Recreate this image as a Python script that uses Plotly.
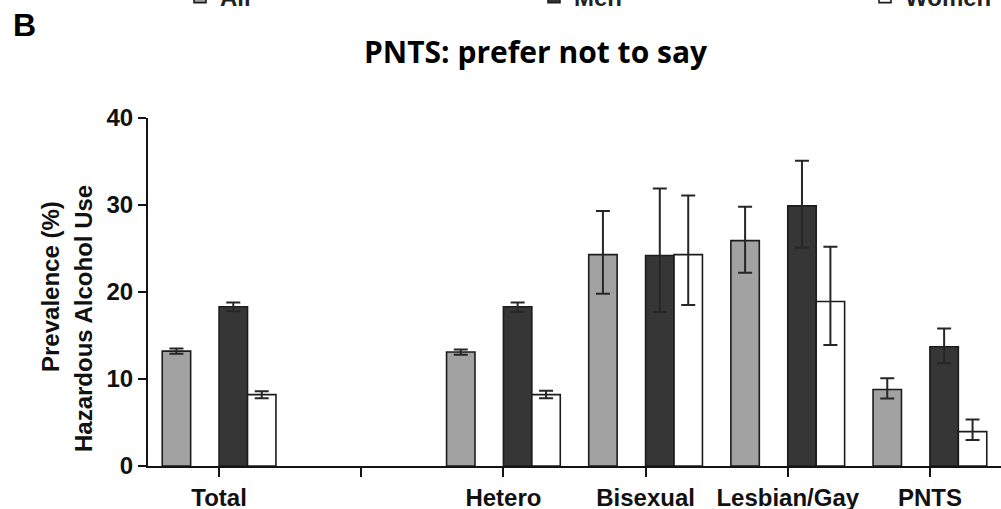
import plotly.graph_objects as go

# ---- data ----
categories = ["Total", "", "Hetero", "Bisexual", "Lesbian/Gay", "PNTS"]

all_val   = [13.2, None, 13.1, 24.3, 25.9, 8.8]
all_hi    = [13.5, None, 13.4, 29.3, 29.8, 10.1]
all_lo    = [12.9, None, 12.8, 19.8, 22.2, 7.75]

men_val   = [18.3, None, 18.3, 24.2, 29.9, 13.7]
men_hi    = [18.8, None, 18.8, 31.9, 35.1, 15.8]
men_lo    = [17.8, None, 17.7, 17.7, 25.1, 11.8]

women_val = [8.2, None, 8.2, 24.3, 18.9, 3.95]
women_hi  = [8.6, None, 8.65, 31.1, 25.2, 5.35]
women_lo  = [7.8, None, 7.8, 18.5, 13.9, 3.0]

series_names = ["All", "Men", "Women"]
y_ticks = [0, 10, 20, 30, 40]

x_pos = list(range(len(categories)))


def plus(v, hi):
    return [None if a is None else h - a for a, h in zip(v, hi)]


def minus(v, lo):
    return [None if a is None else a - l for a, l in zip(v, lo)]


AX = "#141414"
EB = dict(type="data", symmetric=False, color="#262626", thickness=2, width=7)
LINE = dict(color="#1c1c1c", width=1.6)

fig = go.Figure()
fig.add_trace(go.Bar(
    name=series_names[0], x=x_pos, y=all_val,
    marker=dict(color="#a2a2a2", line=LINE),
    error_y=dict(array=plus(all_val, all_hi), arrayminus=minus(all_val, all_lo), **EB),
    legend="legend",
))
# empty slot (the original layout leaves a blank position in each group)
fig.add_trace(go.Bar(
    name="", x=x_pos, y=[None] * len(x_pos), showlegend=False,
    marker=dict(color="rgba(0,0,0,0)", line=dict(width=0)), hoverinfo="skip",
))
fig.add_trace(go.Bar(
    name=series_names[1], x=x_pos, y=men_val,
    marker=dict(color="#363636", line=LINE),
    error_y=dict(array=plus(men_val, men_hi), arrayminus=minus(men_val, men_lo), **EB),
    legend="legend2",
))
fig.add_trace(go.Bar(
    name=series_names[2], x=x_pos, y=women_val,
    marker=dict(color="#ffffff", line=LINE),
    error_y=dict(array=plus(women_val, women_hi), arrayminus=minus(women_val, women_lo), **EB),
    legend="legend3",
))

L, R, T, B = 148, 0, 118, 43
W, H = 1001, 509
pw, ph = W - L - R, H - T - B


def px_x(px):
    return (px - L) / pw


def px_y(py):
    return 1 - (py - T) / ph


FAM = "Liberation Sans, Arial, sans-serif"
tick_font = dict(family=FAM, size=24, color="#111", weight="bold")
leg_font = dict(family=FAM, size=24, color="#222", weight="bold")

# the legend row sits mostly above the top edge of the (cropped) figure
legend_common = dict(orientation="h", xref="container", yref="paper",
                     xanchor="left", yanchor="middle", y=px_y(-3), font=leg_font,
                     bgcolor="rgba(0,0,0,0)")

fig.update_layout(
    width=W, height=H,
    margin=dict(l=L, r=R, t=T, b=B, autoexpand=False),
    paper_bgcolor="white", plot_bgcolor="white",
    barmode="group", bargap=0.2, bargroupgap=0.0,
    title=dict(text="PNTS: prefer not to say", xref="container", x=0.535, xanchor="center",
               yref="container", y=1 - 52 / H, yanchor="middle",
               font=dict(family="Open Sans, sans-serif", size=30, color="#000", weight="bold")),
    legend=dict(x=180 / W, **legend_common),
    legend2=dict(x=534 / W, **legend_common),
    legend3=dict(x=865 / W, **legend_common),
    xaxis=dict(range=[-0.5, len(categories) - 0.5], tickmode="array", tickvals=x_pos,
               ticktext=categories, ticks="outside", ticklen=9, tickwidth=2, tickcolor=AX,
               showline=True, linewidth=2, linecolor=AX, showgrid=False, zeroline=False,
               tickfont=dict(tick_font, size=24)),
    yaxis=dict(range=[0, 40], tickmode="array", tickvals=y_ticks, ticks="outside",
               ticklen=8, tickwidth=2, tickcolor=AX, showline=True, linewidth=2,
               linecolor=AX, showgrid=False, zeroline=False, tickfont=tick_font),
    annotations=[
        dict(text="B", xref="paper", yref="paper", x=px_x(25), y=px_y(25), showarrow=False,
             xanchor="center", yanchor="middle",
             font=dict(family=FAM, size=32, color="#000", weight="bold")),
        dict(text="Prevalence (%)", xref="paper", yref="paper", x=px_x(50), y=px_y(287),
             xanchor="center", yanchor="middle",
             textangle=-90, showarrow=False, font=tick_font),
        dict(text="Hazardous Alcohol Use", xref="paper", yref="paper", x=px_x(83), y=px_y(319),
             xanchor="center", yanchor="middle",
             textangle=-90, showarrow=False, font=tick_font),
    ],
    showlegend=True,
)

fig.write_html("out.html", config={"displayModeBar": False},
               post_script="document.body.style.margin='0';document.body.style.overflow='hidden';")
